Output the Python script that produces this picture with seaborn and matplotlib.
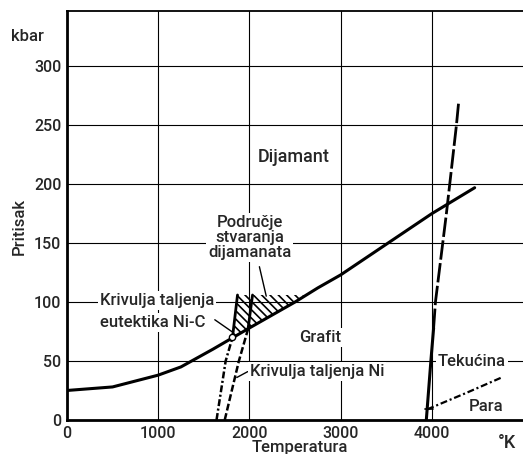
import numpy as np
import pandas as pd
import seaborn as sns
import matplotlib
matplotlib.use("Agg")
import matplotlib.pyplot as plt

# granica grafit / dijamant
graf_t = [0, 500, 1000, 1250, 1600, 1800, 2000, 2500, 2750, 3000, 3500, 4000, 4470]
graf_p = [25, 28, 38, 45, 60, 69, 78, 100, 112, 123, 149, 175, 197]

# krivulja taljenja eutektika Ni-C
eut_t = [1640, 1740, 1815]
eut_p = [0, 50, 70]
eut_top_t = [1815, 1870]
eut_top_p = [70, 106]

# krivulja taljenja Ni
ni_t = [1730, 1885, 1985]
ni_p = [0, 50, 77]
ni_top_t = [1985, 2035]
ni_top_p = [77, 106]

# podrucje stvaranja dijamanata
hatch_t = [1815, 1870, 2625, 2500, 2000, 1815]
hatch_p = [70, 106, 106, 100, 78, 70]

# tekucina / cvrsto
liq_low_t = [3940, 3990, 4020]
liq_low_p = [0, 50, 78]
liq_t = [4020, 4040, 4160, 4270, 4295]
liq_p = [78, 100, 175, 250, 270]

# para
vap_t = [3950, 4380, 4765]
vap_p = [9, 23, 36]

x_ticks = [0, 1000, 2000, 3000, 4000]
y_ticks = [0, 50, 100, 150, 200, 250, 300]

sns.set_style("white")
plt.rcParams['font.family'] = ['Roboto', 'DejaVu Sans']
plt.rcParams['lines.scale_dashes'] = False
plt.rcParams['hatch.linewidth'] = 1.2

fig = plt.figure(figsize=(5.23, 4.54), dpi=100)
ax = fig.add_axes([0.128, 0.075, 0.872, 0.901])

def line(t, p, **kw):
    sns.lineplot(x=t, y=p, ax=ax, sort=False, estimator=None, color='black', **kw)

line(graf_t, graf_p, lw=2.2)
line(eut_t, eut_p, lw=1.8, linestyle=(0, (5, 1.8, 1.5, 1.8)))
line(eut_top_t, eut_top_p, lw=2.0)
line(ni_t, ni_p, lw=1.8, linestyle=(0, (5, 2)))
line(ni_top_t, ni_top_p, lw=2.0)
line(liq_low_t, liq_low_p, lw=2.2)
line(liq_t, liq_p, lw=2.0, linestyle=(0, (14, 2.5)))
line(vap_t, vap_p, lw=1.6, linestyle=(0, (5, 2, 1.5, 2)))

ax.fill(hatch_t, hatch_p, facecolor='none', edgecolor='black', hatch='\\\\\\\\', lw=0)
ax.plot([1815], [70], 'o', ms=4.5, mfc='white', mec='black', mew=1)

# pomocne crte
ax.plot([2110, 2185], [130, 105], color='black', lw=1)
ax.plot([1621, 1807], [85, 75], color='black', lw=1)
ax.plot([1982, 1862], [41, 36], color='black', lw=1)
ax.plot([3930, 4010], [9, 9], color='black', lw=1.2)

ax.set_xlim(0, 5000)
ax.set_ylim(0, 347)
ax.set_xticks(x_ticks)
ax.set_yticks(y_ticks)
ax.set_xticklabels([str(v) for v in x_ticks], fontsize=11.5, fontweight='medium')
ax.set_yticklabels([str(v) for v in y_ticks], fontsize=11.5, fontweight='medium')
ax.tick_params(length=0, pad=4)
ax.grid(True, color='black', lw=0.8)
ax.set_axisbelow(True)
for s in ['left', 'bottom']:
    ax.spines[s].set_linewidth(2)
ax.spines['top'].set_linewidth(1.3)
ax.spines['right'].set_visible(False)
for s in ax.spines.values():
    s.set_color('black')

wb = dict(facecolor='white', edgecolor='none', pad=1.5)
fs = 12
fw = 'medium'
ax.text(-438, 325, 'kbar', fontsize=fs, fontweight=fw, ha='center', va='center')
ax.text(-526, 164, 'Pritisak', fontsize=fs, fontweight=fw, rotation=90, ha='center', va='center')
ax.text(2552, -23, 'Temperatura', fontsize=fs, fontweight=fw, ha='center', va='center')
ax.text(4820, -19.5, '°K', fontsize=fs + 1, fontweight=fw, ha='center', va='center')
ax.text(2486, 223, 'Dijamant', fontsize=fs + 1, fontweight=fw, ha='center', va='center')
ax.text(2004, 155, 'Područje\nstvaranja\ndijamanata', fontsize=fs, fontweight=fw, ha='center',
        va='center', linespacing=1.0, bbox=wb)
ax.text(361, 101, 'Krivulja taljenja', fontsize=fs, fontweight=fw, ha='left', va='center', bbox=wb)
ax.text(361, 83, 'eutektika Ni-C', fontsize=fs, fontweight=fw, ha='left', va='center', bbox=wb)
ax.text(2771, 70, 'Grafit', fontsize=fs, fontweight=fw, ha='center', va='center', bbox=wb)
ax.text(2004, 41, 'Krivulja taljenja Ni', fontsize=fs, fontweight=fw, ha='left', va='center', bbox=wb)
ax.text(4436, 50, 'Tekućina', fontsize=fs, fontweight=fw, ha='center', va='center', bbox=wb)
ax.text(4600, 11, 'Para', fontsize=fs, fontweight=fw, ha='center', va='center')

fig.savefig('out.png', dpi=100)
